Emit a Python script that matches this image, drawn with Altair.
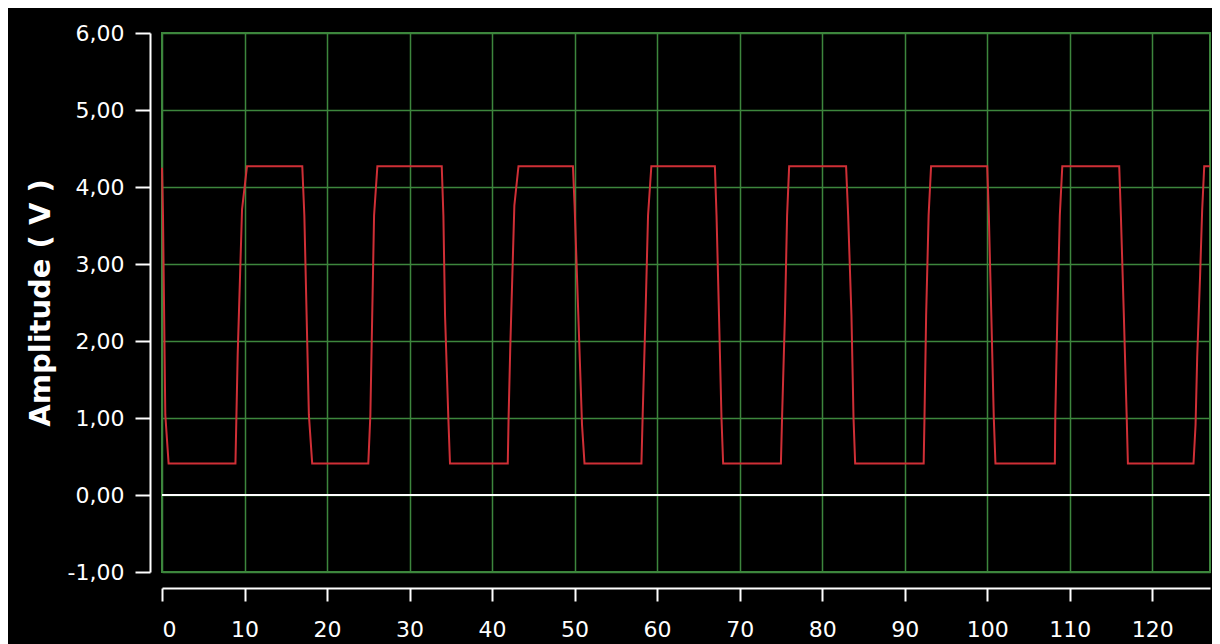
import altair as alt
import pandas as pd

# Waveform corner points (time index, amplitude in V)
time_idx = [
    0.0, 0.12, 0.4, 0.8,
    8.9, 9.17, 9.7, 10.3,
    17.0, 17.25, 17.8, 18.2,
    25.0, 25.25, 25.7, 26.1,
    33.9, 34.1, 34.3, 34.7, 34.9,
    41.9, 42.0, 42.2, 42.7, 43.2,
    49.8, 50.0, 50.3, 50.9, 51.2,
    58.1, 58.25, 58.6, 58.9, 59.3,
    67.0, 67.2, 67.5, 67.8, 68.0,
    75.0, 75.15, 75.5, 75.75, 76.0,
    82.9, 83.15, 83.55, 83.8, 84.0,
    92.3, 92.4, 92.6, 92.9, 93.2,
    100.0, 100.2, 100.5, 100.8, 101.0,
    108.2, 108.25, 108.5, 108.8, 109.1,
    116.0, 116.2, 116.55, 116.9, 117.05,
    125.0, 125.25, 125.45, 125.8, 126.05, 126.3, 127.0,
]
amplitude = [
    4.25, 3.63, 1.04, 0.41,
    0.41, 1.82, 3.71, 4.27,
    4.27, 3.63, 1.04, 0.41,
    0.41, 1.04, 3.63, 4.27,
    4.27, 3.63, 2.33, 1.00, 0.41,
    0.41, 1.00, 1.90, 3.76, 4.27,
    4.27, 3.76, 2.81, 0.91, 0.41,
    0.41, 1.04, 2.37, 3.63, 4.27,
    4.27, 3.63, 2.33, 1.00, 0.41,
    0.41, 1.04, 2.37, 3.63, 4.27,
    4.27, 3.63, 2.33, 1.00, 0.41,
    0.41, 1.00, 2.33, 3.63, 4.27,
    4.27, 3.63, 2.33, 1.00, 0.41,
    0.41, 1.00, 2.33, 3.63, 4.27,
    4.27, 3.63, 2.37, 1.04, 0.41,
    0.41, 0.91, 1.80, 2.85, 3.70, 4.27, 4.27,
]
x_ticks = [0, 10, 20, 30, 40, 50, 60, 70, 80, 90, 100, 110, 120]
y_ticks = [-1, 0, 1, 2, 3, 4, 5, 6]
y_title = "Amplitude ( V )"

df = pd.DataFrame({"t": time_idx, "v": amplitude, "i": list(range(len(time_idx)))})
zero_df = pd.DataFrame({"v": [0]})

GREEN = "#3d863d"

x_enc = alt.X(
    "t:Q",
    scale=alt.Scale(domain=[0, 127], nice=False, zero=False),
    axis=alt.Axis(values=x_ticks, title=None, format="d", offset=16,
                  tickSize=13, labelPadding=18),
)
y_enc = alt.Y(
    "v:Q",
    scale=alt.Scale(domain=[-1, 6], nice=False),
    axis=alt.Axis(
        values=y_ticks, title=y_title, offset=12, tickSize=15,
        labelPadding=11, titlePadding=12,
        labelExpr="(datum.value < 0 ? '-' : '') + replace(format(abs(datum.value), '.2f'), '.', ',')",
    ),
)

zero_line = alt.Chart(zero_df).mark_rule(color="white", strokeWidth=2).encode(y=y_enc)

wave = alt.Chart(df).mark_line(color="#cf2f36", strokeWidth=2).encode(
    x=x_enc, y=y_enc, order="i:Q"
)

chart = (
    alt.layer(zero_line, wave)
    .properties(
        width=1048,
        height=539,
        background="black",
        padding={"left": 154, "top": 25, "right": 2, "bottom": 72},
        autosize=alt.AutoSizeParams(type="none"),
    )
    .configure_view(stroke=GREEN, strokeWidth=2, fill="black")
    .configure_axis(
        gridColor=GREEN,
        gridWidth=1.5,
        gridOpacity=1,
        domainColor="white",
        domainWidth=2,
        tickColor="white",
        tickWidth=2,
        labelColor="white",
        labelFont="DejaVu Sans",
        labelFontSize=22,
        titleColor="white",
        titleFont="DejaVu Sans",
        titleFontWeight="bold",
        titleFontSize=29,
    )
)

chart.save("out.html", embed_options={"renderer": "svg", "actions": False})
